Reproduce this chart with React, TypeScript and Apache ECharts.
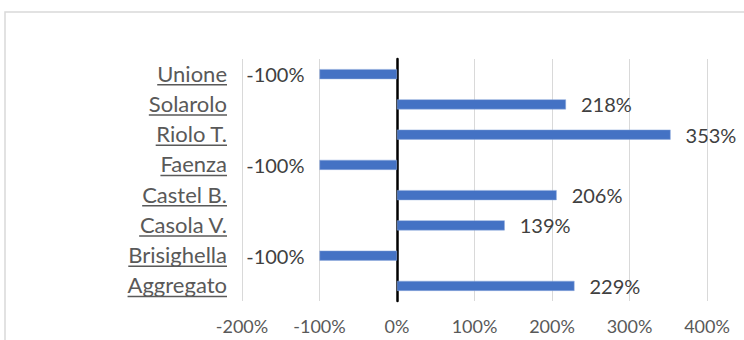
import React, { useEffect, useRef } from "react";
import * as echarts from "echarts";

const categories = ["Unione", "Solarolo", "Riolo T.", "Faenza", "Castel B.", "Casola V.", "Brisighella", "Aggregato"];
const values = [-100, 218, 353, -100, 206, 139, -100, 229];
const axisMin = -200;
const axisMax = 400;
const axisStep = 100;

const FONT = "Lato";
const CAT_SIZE = 22;

function measure(text: string, size: number): number {
  const c = document.createElement("canvas").getContext("2d");
  if (!c) return text.length * size * 0.5;
  c.font = `${size}px ${FONT}`;
  return c.measureText(text).width;
}

export default function App() {
  const ref = useRef<HTMLDivElement>(null);
  useEffect(() => {
    if (!ref.current) return;
    const chart = echarts.init(ref.current, undefined, { renderer: "svg" });
    const rich: Record<string, any> = {
      t: { fontSize: CAT_SIZE, color: "#595959", fontFamily: FONT, lineHeight: 21 },
    };
    categories.forEach((c, i) => {
      rich["u" + i] = { width: measure(c, CAT_SIZE), height: 1.5, lineHeight: 2, backgroundColor: "#595959" };
    });
    chart.setOption({
      animation: false,
      textStyle: { fontFamily: FONT },
      graphic: [
        {
          type: "rect",
          shape: { x: 5, y: 12, width: 800, height: 400 },
          style: { fill: "none", stroke: "#d9d9d9", lineWidth: 1.5 },
          silent: true,
        },
      ],
      grid: { left: 242, right: 37, top: 59, bottom: 39, containLabel: false },
      xAxis: {
        type: "value",
        min: axisMin,
        max: axisMax,
        interval: axisStep,
        axisLine: { show: false },
        axisTick: { show: false },
        splitLine: { show: true, lineStyle: { color: "#d9d9d9", width: 1 } },
        axisLabel: { formatter: "{value}%", color: "#595959", fontSize: 18, fontFamily: FONT, margin: 16 },
      },
      yAxis: {
        type: "category",
        data: categories,
        inverse: true,
        axisLine: { show: true, onZero: true, lineStyle: { color: "#000000", width: 2.5 } },
        axisTick: { show: false },
        splitLine: { show: false },
        axisLabel: {
          margin: 15,
          align: "right",
          formatter: (v: string, i: number) => `{t|${v}}\n{u${i}|}`,
          rich,
        },
      },
      series: [
        {
          type: "bar",
          barWidth: 10,
          itemStyle: { color: "#4472C4", borderColor: "#8faadc", borderWidth: 0.5 },
          data: values.map((v) => ({
            value: v,
            label: { position: v < 0 ? "left" : "right" },
          })),
          label: {
            show: true,
            distance: 15,
            formatter: (p: any) => `${p.value}%`,
            color: "#404040",
            fontSize: 20,
            fontFamily: FONT,
          },
        },
      ],
    });
    return () => chart.dispose();
  }, []);
  return <div ref={ref} style={{ position: "absolute", left: 0, top: 0, width: 744, height: 340 }} />;
}
